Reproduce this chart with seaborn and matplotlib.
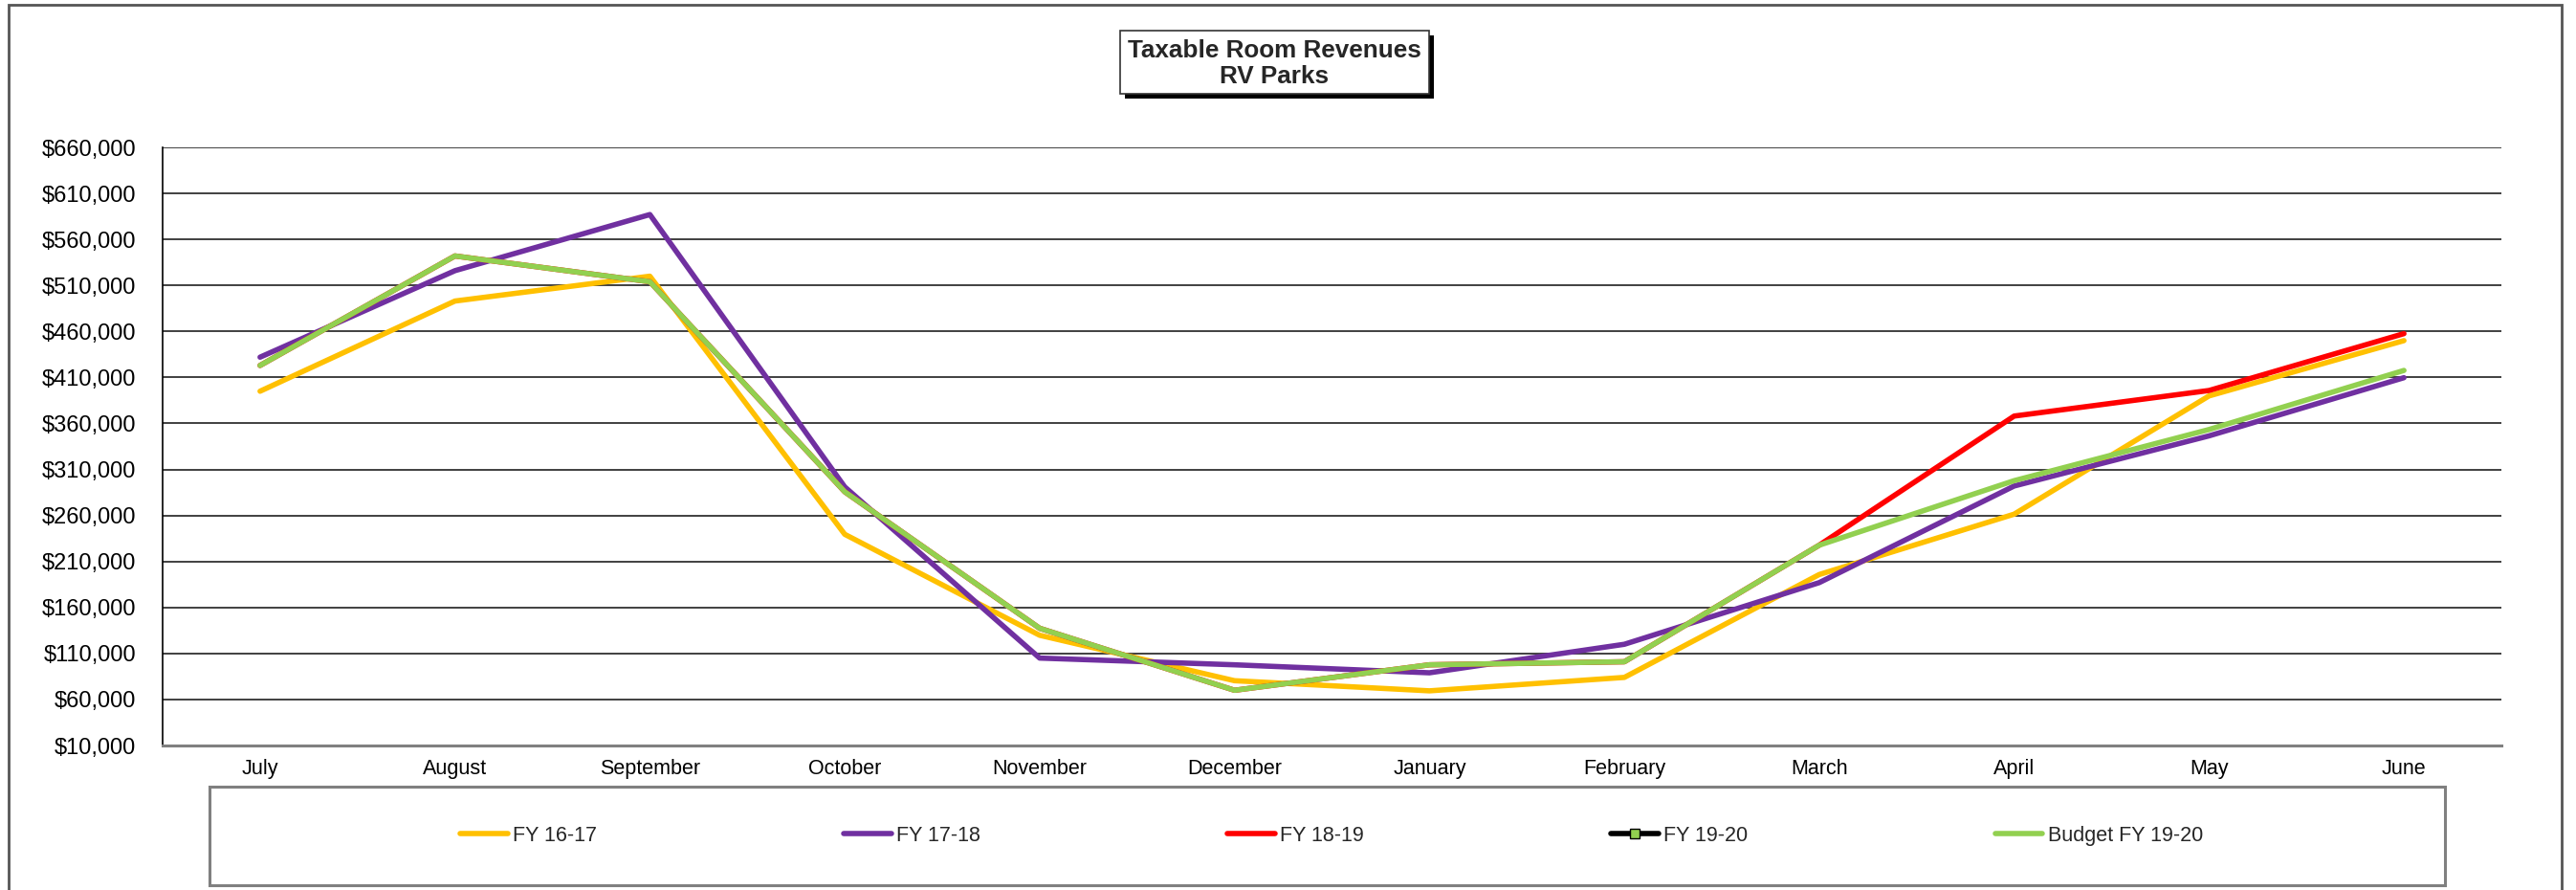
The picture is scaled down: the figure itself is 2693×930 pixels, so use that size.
import pandas as pd
import matplotlib.pyplot as plt
import seaborn as sns
from matplotlib.lines import Line2D
from matplotlib.patches import Rectangle
from matplotlib.ticker import FuncFormatter, FixedLocator

# data
months = ['July', 'August', 'September', 'October', 'November', 'December',
          'January', 'February', 'March', 'April', 'May', 'June']
fy_16_17 = [395000, 493000, 520000, 239500, 129800, 80400,
            69400, 84000, 195800, 261400, 389900, 450000]
fy_17_18 = [432000, 526000, 587000, 291000, 105000, 97700,
            89000, 120000, 187000, 292000, 346500, 409700]
fy_18_19 = [423000, 542000, 514000, 285700, 137400, 70000,
            97700, 101000, 227700, 368000, 395800, 457600]
fy_19_20 = [None] * 12
budget_19_20 = [423000, 542000, 514000, 285700, 137400, 70000,
                97700, 101000, 227700, 297800, 353400, 417600]
y_ticks = list(range(10000, 660001, 50000))

series_names = ['FY 16-17', 'FY 17-18', 'FY 18-19', 'FY 19-20', 'Budget FY 19-20']
series_values = [fy_16_17, fy_17_18, fy_18_19, fy_19_20, budget_19_20]
colours = {'FY 16-17': '#FFC000', 'FY 17-18': '#7030A0', 'FY 18-19': '#FF0000',
           'FY 19-20': '#000000', 'Budget FY 19-20': '#92D050'}

# long table for seaborn
rows = []
for name, vals in zip(series_names, series_values):
    for m, v in zip(months, vals):
        rows.append({'Month': m, 'Revenue': v, 'Series': name})
df = pd.DataFrame(rows)
df['Revenue'] = pd.to_numeric(df['Revenue'])
plot_df = df.dropna(subset=['Revenue'])
drawn = [s for s in series_names if s in plot_df['Series'].unique()]

sns.set_style('white')
plt.rcParams['font.family'] = ['Liberation Sans', 'DejaVu Sans']

W, H = 2693, 930
fig = plt.figure(figsize=(W / 100, H / 100), dpi=100)
ax = fig.add_axes([170 / W, 1 - 779 / H, (2615 - 170) / W, (779 - 154) / H])

sns.lineplot(data=plot_df, x='Month', y='Revenue', hue='Series', hue_order=drawn,
             palette=colours, linewidth=4.0, sort=False, legend=False, ax=ax,
             solid_capstyle='round')

# axes styling
ax.set_xlim(-0.5, 11.5)
ax.set_ylim(10000, 660000)
ax.yaxis.set_major_locator(FixedLocator(y_ticks))
ax.yaxis.set_major_formatter(FuncFormatter(lambda v, p: f'${v:,.0f}'))
ax.set_xticks(range(12))
ax.set_xticklabels(months)
ax.xaxis.set_minor_locator(FixedLocator([i + 0.5 for i in range(-1, 12)]))
ax.tick_params(axis='x', which='major', length=0, pad=10, labelsize=15.5, labelcolor='black')
ax.tick_params(axis='x', which='minor', length=6, width=1, color='black', direction='out')
ax.tick_params(axis='y', length=7, width=1, color='black', direction='out', pad=13,
               labelsize=17, labelcolor='black')
ax.set_xlabel('')
ax.set_ylabel('')
ax.grid(axis='y', color='#404040', linewidth=1.4)
ax.grid(axis='x', visible=False)
ax.set_axisbelow(True)
for side in ['top', 'right']:
    ax.spines[side].set_visible(False)
ax.spines['left'].set_color('black')
ax.spines['left'].set_linewidth(1.2)
ax.spines['bottom'].set_color('#808080')
ax.spines['bottom'].set_linewidth(2.2)


def fig_rect(x0, y0, x1, y1, **kw):
    # rectangle given in pixel coordinates measured from top-left
    return Rectangle((x0 / W, 1 - y1 / H), (x1 - x0) / W, (y1 - y0) / H,
                     transform=fig.transFigure, **kw)


# outer chart frame
fig.patches.append(fig_rect(9, 5, 2678, 940, fill=False, ec='#555555', lw=2))

# title box with shadow
fig.patches.append(fig_rect(1176, 37, 1499, 103, fc='black', ec='black', lw=0))
fig.patches.append(fig_rect(1171, 32, 1494, 98, fc='white', ec='#333333', lw=1.2))
fig.text(1332 / W, 1 - 53 / H, 'Taxable Room Revenues', ha='center', va='center',
         fontsize=18.8, fontweight='bold')
fig.text(1332 / W, 1 - 80 / H, 'RV Parks', ha='center', va='center',
         fontsize=18.8, fontweight='bold')

# legend box and legend
fig.patches.append(fig_rect(219, 822, 2556, 925, fill=False, ec='#808080', lw=2.2))
handles = []
for name in series_names:
    if name == 'FY 19-20':
        handles.append(Line2D([0], [0], color='black', lw=4.0, marker='s', markersize=7,
                              markerfacecolor='#92D050', markeredgecolor='black'))
    else:
        handles.append(Line2D([0], [0], color=colours[name], lw=4.0, solid_capstyle='round'))
fig.legend(handles, series_names, loc='center', bbox_to_anchor=(1392 / W, 1 - 873 / H),
           ncol=5, frameon=False, fontsize=15.5, handlelength=2.3, handletextpad=0.25,
           columnspacing=12.0)

fig.savefig('out.png', dpi=100)
